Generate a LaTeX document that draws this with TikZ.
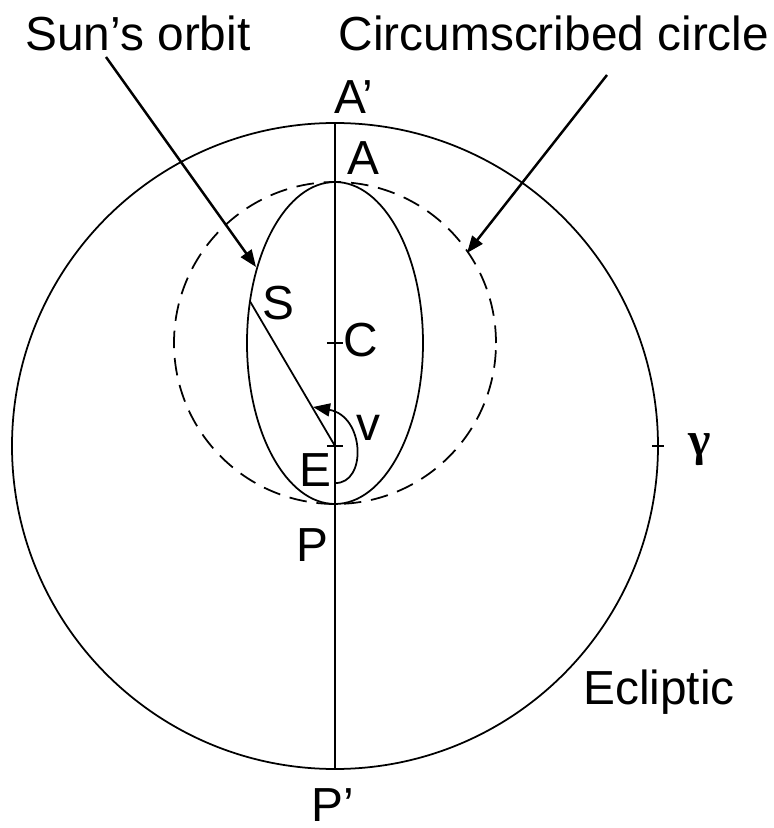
\documentclass[tikz,border=0pt]{standalone}
\usepackage{fontspec}
\setmainfont{Liberation Sans}
\newfontfamily\gammafont{Liberation Serif}
\usepackage{tikz}
\usetikzlibrary{arrows.meta,calc}

\begin{document}
\begin{tikzpicture}[
    every node/.style={inner sep=0pt, font=\fontsize{13.6}{16}\selectfont},
    orbit/.style={line width=0.5pt},
    helper/.style={line width=0.5pt, dash pattern=on 5pt off 2.8pt},
    pointer/.style={line width=0.7pt, -{Triangle[length=1.7mm,width=1.3mm]}},
    tick/.style={line width=0.5pt}
]
\useasboundingbox (-3.35,-3.82) rectangle (4.38,4.46);

% centres
\coordinate (E) at (0,0);
\coordinate (C) at (0,1.03);
\coordinate (Atop) at (0,3.23);
\coordinate (Pbot) at (0,-3.23);
\coordinate (gam) at (3.23,0);

% ecliptic, circumscribed circle, orbit
\draw[orbit] (E) circle (3.23);
\draw[helper] (C) circle (1.61);
\draw[orbit] (C) ellipse (0.88 and 1.61);
\draw[orbit] (Atop) -- (Pbot);

% ticks
\draw[tick] ($(C)+(-0.08,0)$) -- ($(C)+(0.08,0)$);
\draw[tick] ($(E)+(-0.08,0)$) -- ($(E)+(0.08,0)$);
\draw[tick] ($(gam)+(-0.06,0)$) -- ($(gam)+(0.06,0)$);

% sun and angle v
\coordinate (S) at ($(C)+(165:0.88 and 1.61)$);
\draw[orbit] (E) -- (S);
\coordinate (vstart) at (0,-0.37);
\coordinate (vend) at (-0.22,0.39);
\draw[pointer, line width=0.5pt] (vstart) .. controls (0.32,-0.38) and (0.3,0.3) .. (vend);

% labels
\node (lblAp) at (0.19,3.49) {A’};
\node (lblA) at (0.28,2.88) {A};
\node (lblS) at (-0.57,1.43) {S};
\node (lblC) at (0.26,1.06) {C};
\node (lblv) at (0.33,0.18) {v};
\node (lblE) at (-0.20,-0.24) {E};
\node (lblP) at (-0.23,-0.99) {P};
\node (lblPp) at (-0.02,-3.59) {P’};
\node (lblgam) at (3.65,-0.04) {\gammafont\bfseries γ};
\node (lblecl) at (3.24,-2.46) {Ecliptic};
\node (lblsun) at (-1.97,4.13) {Sun’s orbit};
\node (lblcirc) at (2.19,4.13) {Circumscribed circle};

% pointers
\coordinate (suntail) at (-2.29,3.89);
\coordinate (suntip) at (-0.79,1.79);
\coordinate (circtail) at (2.72,3.71);
\coordinate (circtip) at (1.32,1.93);
\draw[pointer] (suntail) -- (suntip);
\draw[pointer] (circtail) -- (circtip);

\end{tikzpicture}
\end{document}
